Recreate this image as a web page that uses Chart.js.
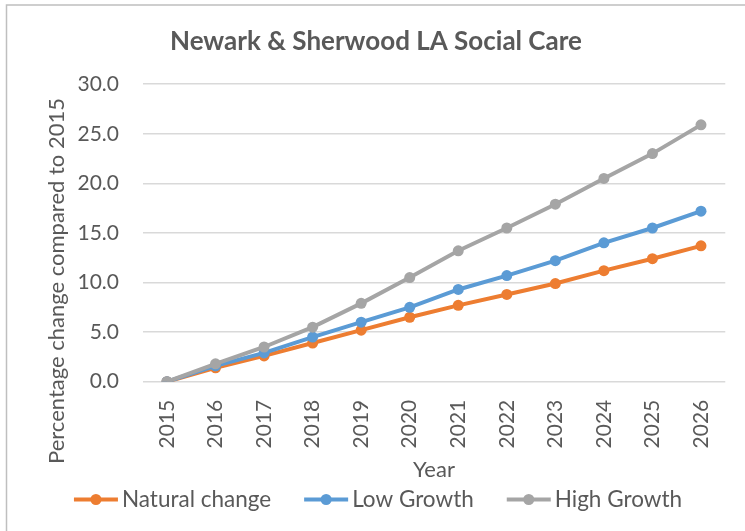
<!DOCTYPE html>
<html>
<head>
<meta charset="utf-8">
<script src="https://cdn.jsdelivr.net/npm/chart.js@4/dist/chart.umd.min.js"></script>
<style>
  html, body { margin: 0; padding: 0; background: #ffffff; }
  canvas { display: block; }
</style>
</head>
<body>
<canvas id="c" width="745" height="531"></canvas>
<script>
const chartTitle = 'Newark & Sherwood LA Social Care';
const yAxisTitle = 'Percentage change compared to 2015';
const xAxisTitle = 'Year';
const years = ['2015','2016','2017','2018','2019','2020','2021','2022','2023','2024','2025','2026'];
const seriesNames = ['Natural change', 'Low Growth', 'High Growth'];
const naturalChange = [0, 1.4, 2.6, 3.9, 5.2, 6.5, 7.7, 8.8, 9.9, 11.2, 12.4, 13.7];
const lowGrowth = [0, 1.6, 2.9, 4.5, 6.0, 7.5, 9.3, 10.7, 12.2, 14.0, 15.5, 17.2];
const highGrowth = [0, 1.8, 3.5, 5.5, 7.9, 10.5, 13.2, 15.5, 17.9, 20.5, 23.0, 25.9];
const yTicks = [0, 5, 10, 15, 20, 25, 30];

const colors = ['#ED7D31', '#5B9BD5', '#A5A5A5'];
const textColor = '#595959';
const FONT = 'Lato';

function ds(label, data, color, order) {
  return {
    label, data, order,
    borderColor: color,
    backgroundColor: color,
    borderWidth: 4,
    pointRadius: 5.5,
    pointHoverRadius: 5.5,
    pointBorderWidth: 0,
    pointBackgroundColor: color,
    tension: 0,
    fill: false
  };
}

const decor = {
  id: 'decor',
  beforeDraw(chart) {
    const ctx = chart.ctx;
    ctx.save();
    ctx.fillStyle = '#ffffff';
    ctx.fillRect(0, 0, chart.width, chart.height);
    ctx.strokeStyle = '#bfbfbf';
    ctx.lineWidth = 1.5;
    ctx.beginPath();
    ctx.moveTo(6.5, chart.height + 2);
    ctx.lineTo(6.5, 5);
    ctx.lineTo(chart.width + 2, 5);
    ctx.stroke();
    ctx.restore();
  },
  afterDraw(chart) {
    const ctx = chart.ctx;
    ctx.save();
    // y-axis title
    ctx.font = '22px ' + FONT;
    ctx.fillStyle = textColor;
    ctx.textAlign = 'center';
    ctx.textBaseline = 'middle';
    ctx.translate(57, 281);
    ctx.rotate(-Math.PI / 2);
    ctx.fillText(yAxisTitle, 0, 0);
    ctx.restore();

    // legend
    ctx.save();
    ctx.font = '22.5px ' + FONT;
    ctx.textBaseline = 'middle';
    ctx.textAlign = 'left';
    const sets = chart.data.datasets;
    const markW = 44, gapText = 4, gapItem = 33;
    const widths = sets.map(d => markW + gapText + ctx.measureText(d.label).width);
    const total = widths.reduce((a, b) => a + b, 0) + gapItem * (sets.length - 1);
    let x = 378 - total / 2;
    const y = 499.5;
    sets.forEach((d, i) => {
      ctx.strokeStyle = d.borderColor;
      ctx.lineWidth = 4;
      ctx.beginPath();
      ctx.moveTo(x, y);
      ctx.lineTo(x + markW, y);
      ctx.stroke();
      ctx.fillStyle = d.borderColor;
      ctx.beginPath();
      ctx.arc(x + markW / 2, y, 5.5, 0, Math.PI * 2);
      ctx.fill();
      ctx.fillStyle = textColor;
      ctx.fillText(d.label, x + markW + gapText, y);
      x += widths[i] + gapItem;
    });
    ctx.restore();
  }
};

new Chart(document.getElementById('c'), {
  type: 'line',
  data: {
    labels: years,
    datasets: [
      ds(seriesNames[0], naturalChange, colors[0], 2),
      ds(seriesNames[1], lowGrowth, colors[1], 1),
      ds(seriesNames[2], highGrowth, colors[2], 0)
    ]
  },
  options: {
    responsive: false,
    animation: false,
    devicePixelRatio: 1,
    layout: { padding: { left: 26.3, right: 19.3, top: 0, bottom: 45 } },
    plugins: {
      legend: { display: false },
      tooltip: { enabled: false },
      title: {
        display: true,
        text: chartTitle,
        color: textColor,
        font: { family: FONT, size: 26, weight: 'bold' },
        padding: { top: 26, bottom: 27 }
      }
    },
    scales: {
      x: {
        type: 'category',
        offset: true,
        grid: { display: false, drawTicks: false },
        border: { display: false },
        ticks: {
          color: textColor,
          font: { family: FONT, size: 21 },
          minRotation: 90,
          maxRotation: 90,
          autoSkip: false,
          padding: 18
        },
        title: {
          display: true,
          text: xAxisTitle,
          color: textColor,
          font: { family: FONT, size: 22 },
          padding: { top: 0, bottom: 3 }
        },
        afterFit(scale) { scale.height = 104.3; }
      },
      y: {
        min: 0,
        max: 30,
        grid: { color: '#d9d9d9', lineWidth: 1.5, drawTicks: false },
        border: { display: false },
        afterBuildTicks(scale) { scale.ticks = yTicks.map(v => ({ value: v })); },
        ticks: {
          color: textColor,
          font: { family: FONT, size: 21 },
          padding: 23.7,
          callback: v => Number(v).toFixed(1)
        },
        afterFit(scale) { scale.width = 116.4; }
      }
    }
  },
  plugins: [decor]
});
</script>
</body>
</html>
